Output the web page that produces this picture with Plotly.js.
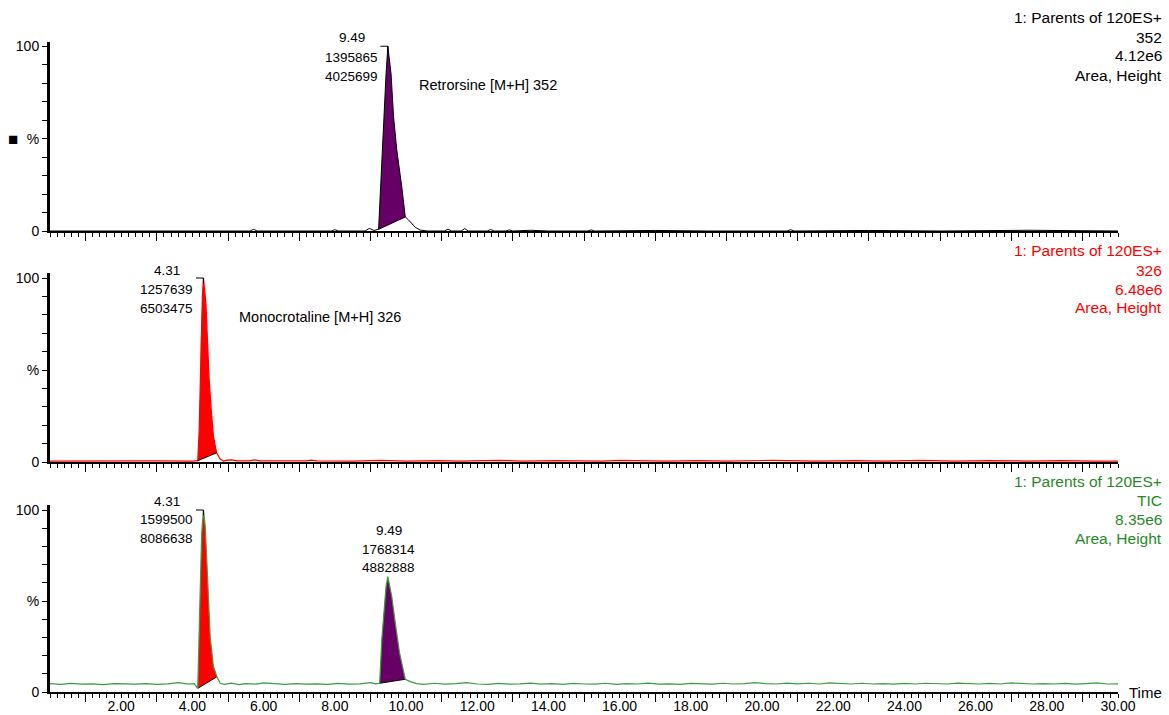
<!DOCTYPE html>
<html><head><meta charset="utf-8">
<script src="https://cdn.plot.ly/plotly-3.0.1.min.js"></script>
<style>html,body{margin:0;padding:0;background:#fff}</style>
</head><body><div id="chart" style="width:1169px;height:715px"></div>
<script>
// ---- Data (time in min, intensity in % of channel maximum) ----
// Channel 352 (Retrorsine), max 4.12e6
const ret_t = [0,1.5,3.0,4.5,5.62,5.72,5.82,7.9,8.0,8.1,8.85,8.97,9.1,9.23,9.29,9.37,9.44,9.49,9.58,9.65,9.74,9.88,9.98,10.07,10.26,10.4,10.6,11.08,11.18,11.28,11.55,11.65,11.75,12.28,12.38,12.48,12.8,12.9,13.0,13.5,14.0,15.1,15.2,15.3,17.0,18.5,20.7,20.8,20.9,23.0,25.0,27.5,30.0];
const ret_v = [0,0,0.2,0,0,0.9,0,0,0.7,0,0,1.4,0.3,0.9,26,58,85,100,85,62,44,24,7.6,6,2,0.5,0,0,1.0,0,0,1.3,0,0,0.8,0,0,0.6,0,0.4,0,0,0.6,0,0.3,0,0,0.7,0,0.3,0,0.4,0];
// Channel 326 (Monocrotaline), max 6.48e6
const mono_t = [0,1.0,2.0,3.0,4.0,4.15,4.19,4.22,4.24,4.28,4.31,4.38,4.43,4.47,4.53,4.59,4.68,4.78,4.87,4.97,5.1,5.25,5.6,5.75,5.9,6.5,7.2,7.35,7.5,8.5,9.3,10.0,10.9,11.5,12.6,13.3,14.2,15.5,16.0,17.3,18.2,19.0,20.3,21.5,22.6,23.4,24.5,25.4,26.4,27.5,28.4,29.3,30.0];
const mono_v = [0.5,0.6,0.5,0.6,0.5,0.7,17,41,68,90,100,86,63,45,28,14,5,1.6,0.5,1.0,1.1,0.6,0.6,1.2,0.6,0.5,0.6,1.0,0.6,0.5,0.9,0.5,0.8,0.5,0.9,0.5,0.8,0.5,0.9,0.5,0.8,0.5,0.9,0.5,0.8,0.5,0.9,0.5,0.8,0.5,0.8,0.5,0.5];
// TIC, max 8.35e6
const tic_t = [0.0,0.3,0.6,0.9,1.2,1.5,1.8,2.1,2.4,2.7,3.0,3.3,3.6,3.9,4.05,
 4.15,4.20,4.24,4.26,4.31,4.36,4.40,4.45,4.50,4.59,4.69,4.78,
 4.9,5.1,5.3,5.5,5.8,6.0,6.3,6.6,6.9,7.2,7.5,7.8,8.1,8.4,8.7,9.0,9.15,
 9.26,9.32,9.39,9.44,9.49,9.60,9.70,9.82,9.98,10.12,
 10.3,10.5,10.8,11.1,11.4,11.7,12.0,12.3,12.6,12.9,13.2,13.5,13.8,14.1,14.4,14.7,15.0,15.3,15.6,15.9,16.2,16.5,16.8,17.1,17.4,17.7,18.0,18.3,18.6,18.9,19.2,19.5,19.8,20.1,20.4,20.7,21.0,21.3,21.6,21.9,22.2,22.5,22.8,23.1,23.4,23.7,24.0,24.3,24.6,24.9,25.2,25.5,25.8,26.1,26.4,26.7,27.0,27.3,27.6,27.9,28.2,28.5,28.8,29.1,29.4,29.7,30.0];
const tic_v = [4.6,4.2,4.7,4.3,4.5,4.1,4.6,4.4,4.3,4.6,4.2,4.5,5.2,4.3,4.6,
 2.0,37.7,65,87,100,91,74,52,30,14,8.4,4.8,
 4.2,4.9,4.1,4.6,4.3,5.0,4.4,4.2,4.6,4.3,4.5,4.2,4.7,4.3,4.5,5.1,4.5,
 4.8,28.6,46.9,57.9,63.4,52.4,37.7,21.3,7.0,5.7,
 4.6,4.2,4.8,4.3,4.6,5.1,4.4,4.2,4.7,4.3,4.5,4.9,4.3,4.6,4.2,4.7,4.4,4.3,4.8,4.2,4.6,4.4,4.9,4.3,4.5,4.2,4.7,4.4,4.3,4.8,4.4,4.6,5.2,4.6,4.4,4.9,4.5,4.8,4.4,5.0,4.6,4.4,4.8,4.4,4.6,4.3,4.7,4.4,4.8,4.5,4.4,4.9,4.5,4.4,4.7,4.4,5.0,4.5,4.4,4.6,4.4,4.7,4.3,4.6,5.0,4.4,4.5];

// Integration limits (min)
const ret_limits = [9.23, 9.98];
const mono_limits = [4.15, 4.68];
const tic_mono_limits = [4.15, 4.69];
const tic_ret_limits = [9.26, 9.98];

// Peak labels: RT, area, height
const ret_labels = ['9.49','1395865','4025699'];
const mono_labels = ['4.31','1257639','6503475'];
const tic_mono_labels = ['4.31','1599500','8086638'];
const tic_ret_labels = ['9.49','1768314','4882888'];

// Channel descriptions
const ret_desc = ['1: Parents of 120ES+','352','4.12e6','Area, Height'];
const mono_desc = ['1: Parents of 120ES+','326','6.48e6','Area, Height'];
const tic_desc = ['1: Parents of 120ES+','TIC','8.35e6','Area, Height'];
const ret_name = 'Retrorsine [M+H] 352';
const mono_name = 'Monocrotaline [M+H] 326';

const x_tickvals = [2,4,6,8,10,12,14,16,18,20,22,24,26,28,30];
const x_ticktext = ['2.00','4.00','6.00','8.00','10.00','12.00','14.00','16.00','18.00','20.00','22.00','24.00','26.00','28.00','30.00'];
const x_major = [1,3,5,7,9,11,13,15,17,19,21,23,25,27,29];
const y_tickvals = [0,10,20,30,40,50,60,70,80,90,100];
const y_ticktext = ['0','','','','','%','','','','','100'];

// ---- Build ----
const PURPLE = '#660066', RED = '#ff0000', GREEN_L = '#3d9a3d', GREEN_T = '#1f8a1f';
const FONT = 'Liberation Sans, Arial, sans-serif';

function seg(t, v, lim) {
  const xs = [], ys = [];
  for (let i = 0; i < t.length; i++) if (t[i] >= lim[0] - 1e-9 && t[i] <= lim[1] + 1e-9) { xs.push(t[i]); ys.push(v[i]); }
  return {x: xs, y: ys};
}
function fillTrace(t, v, lim, color, xa, ya) {
  const s = seg(t, v, lim);
  return {x: s.x, y: s.y, xaxis: xa, yaxis: ya, type: 'scatter', mode: 'lines', fill: 'toself',
    fillcolor: color, line: {width: 0, color: color}, hoverinfo: 'skip'};
}
function baseTrace(t, v, lim, xa, ya) {
  const s = seg(t, v, lim);
  return {x: [s.x[0], s.x[s.x.length-1]], y: [s.y[0], s.y[s.y.length-1]], xaxis: xa, yaxis: ya,
    type: 'scatter', mode: 'lines', line: {width: 1, color: '#000'}, hoverinfo: 'skip'};
}
function lineTrace(t, v, color, w, xa, ya) {
  return {x: t, y: v, xaxis: xa, yaxis: ya, type: 'scatter', mode: 'lines', line: {width: w, color: color}, hoverinfo: 'skip'};
}

const traces = [
  fillTrace(ret_t, ret_v, ret_limits, PURPLE, 'x', 'y'),
  lineTrace(ret_t, ret_v, '#000', 1, 'x', 'y'),
  baseTrace(ret_t, ret_v, ret_limits, 'x', 'y'),
  fillTrace(mono_t, mono_v, mono_limits, RED, 'x2', 'y2'),
  lineTrace(mono_t, mono_v, RED, 1.2, 'x2', 'y2'),
  baseTrace(mono_t, mono_v, mono_limits, 'x2', 'y2'),
  fillTrace(tic_t, tic_v, tic_mono_limits, RED, 'x3', 'y3'),
  fillTrace(tic_t, tic_v, tic_ret_limits, PURPLE, 'x3', 'y3'),
  baseTrace(tic_t, tic_v, tic_mono_limits, 'x3', 'y3'),
  baseTrace(tic_t, tic_v, tic_ret_limits, 'x3', 'y3'),
  lineTrace(tic_t, tic_v, GREEN_L, 1.2, 'x3', 'y3'),
  // carrier for the labelled time axis (drawn below the visible range)
  {x: [0, 30], y: [-50, -50], xaxis: 'x4', yaxis: 'y3', type: 'scatter', mode: 'lines', line: {width: 0}, hoverinfo: 'skip'}
];

function xax(anchor) {
  return {anchor: anchor, range: [0, 30], showgrid: false, zeroline: false, showline: true,
    linecolor: '#000', linewidth: 2, ticks: 'outside', tickmode: 'array', tickvals: x_major,
    ticklen: 8, tickwidth: 1, tickcolor: '#000', showticklabels: false, fixedrange: true,
    minor: {tickmode: 'linear', tick0: 0, dtick: 0.2, ticks: 'outside', ticklen: 4, tickwidth: 1, tickcolor: '#000', showgrid: false}};
}
function yax(anchor, dom) {
  return {anchor: anchor, domain: dom, range: [0, 102.5], showgrid: false, zeroline: false, showline: true,
    linecolor: '#000', linewidth: 3, ticks: 'outside', tickmode: 'array', tickvals: y_tickvals, ticktext: y_ticktext,
    ticklen: 5, tickwidth: 1, tickcolor: '#000', tickfont: {family: FONT, size: 14, color: '#000'}, fixedrange: true};
}

const annotations = [];
function addText(txt, x, y, xref, yref, xanchor, color, size) {
  annotations.push({text: txt, x: x, y: y, xref: xref, yref: yref, xanchor: xanchor, yanchor: 'middle',
    showarrow: false, font: {family: FONT, size: size, color: color}});
}
// right-hand channel descriptions
const descY = [[0.975,0.9461,0.9191,0.8916],[0.6377,0.6098,0.5819,0.5559],[0.3039,0.2764,0.2486,0.2221]];
[[ret_desc,'#000'],[mono_desc,RED],[tic_desc,GREEN_T]].forEach((d, k) => {
  d[0].forEach((s, i) => addText(s, 1.0435, descY[k][i], 'paper', 'paper', 'right', d[1], 15.5));
});
// peak labels (x in time, y in paper units)
function peakLabels(lbls, x, ys, xref) {
  lbls.forEach((s, i) => addText(s, x, ys[i], xref, 'paper', 'center', '#000', 13.5));
}
peakLabels(ret_labels, 8.474, [0.9461, 0.9172, 0.8892], 'x');
peakLabels(mono_labels, 3.283, [0.6088, 0.5819, 0.5549], 'x2');
peakLabels(tic_mono_labels, 3.283, [0.2750, 0.2493, 0.2221], 'x3');
peakLabels(tic_ret_labels, 9.52, [0.2341, 0.2062, 0.1802], 'x3');
addText(ret_name, 10.306, 78.9, 'x', 'y', 'left', '#000', 14.5);
addText(mono_name, 5.264, 79.0, 'x2', 'y2', 'left', '#000', 14.5);
addText('Time', 1.0084, 0, 'paper', 'paper', 'left', '#000', 15);
addText('■', -0.0346, 0.7991, 'paper', 'paper', 'center', '#000', 17);

// apex brackets
function apex(t, v) { let k = 0; for (let i = 1; i < v.length; i++) if (v[i] > v[k]) k = i; return [t[k], v[k]]; }
const shapes = [];
[[ret_t, ret_v, 'x', 'y'], [mono_t, mono_v, 'x2', 'y2'], [tic_t, tic_v, 'x3', 'y3']].forEach(a => {
  const p = apex(a[0], a[1]);
  shapes.push({type: 'path', xref: a[2], yref: a[3], path: `M ${p[0]-0.21},${p[1]} L ${p[0]},${p[1]} L ${p[0]},${p[1]-3}`,
    line: {color: '#000', width: 1}});
});

const layout = {
  width: 1169, height: 715, margin: {l: 50, r: 51, t: 0, b: 23},
  paper_bgcolor: '#fff', plot_bgcolor: '#fff', showlegend: false,
  xaxis: xax('y'), xaxis2: xax('y2'), xaxis3: xax('y3'),
  xaxis4: {overlaying: 'x3', anchor: 'y3', side: 'bottom', range: [0, 30], showgrid: false, zeroline: false, showline: false,
    tickmode: 'array', tickvals: x_tickvals, ticktext: x_ticktext, ticks: 'outside', ticklen: 1,
    tickcolor: 'rgba(0,0,0,0)', tickfont: {family: FONT, size: 14, color: '#000'}, fixedrange: true},
  yaxis: yax('x', [0.66618, 0.93988]),
  yaxis2: yax('x2', [0.33237, 0.60491]),
  yaxis3: yax('x3', [0, 0.26958]),
  annotations: annotations, shapes: shapes
};
Plotly.newPlot('chart', traces, layout, {staticPlot: true, displayModeBar: false});
</script></body></html>
